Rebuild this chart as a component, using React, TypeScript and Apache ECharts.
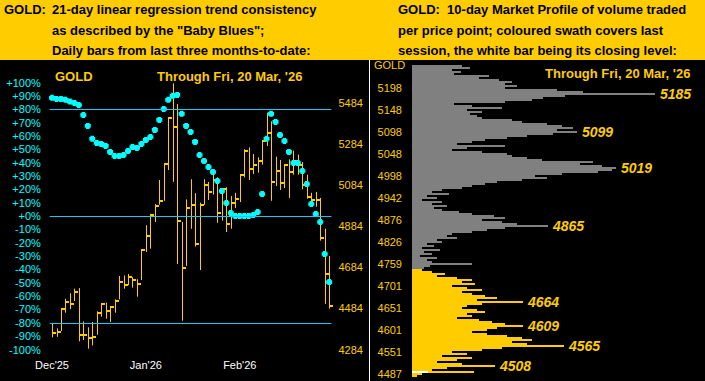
import React, { useEffect, useRef } from 'react';
import * as echarts from 'echarts';

// ---------- Left panel data: daily bars (price) ----------
const BAR_HIGH = [4414,4387,4483,4531,4558,4580,4583,4421,4392,4418,4470,4509,4512,4496,4528,4642,4645,4652,4636,4626,4772,4889,4944,4992,5109,5191,5415,5580,5479,4905,5015,5113,5045,4999,5113,5100,5142,5122,5067,5074,5031,5047,5132,5259,5268,5236,5220,5304,5437,5395,5223,5207,5187,5210,5252,5233,5197,5135,5047,5051,5022,4872,4739];
const BAR_LOW = [4343,4346,4374,4463,4480,4520,4324,4330,4288,4304,4356,4444,4434,4418,4463,4528,4580,4597,4585,4541,4622,4759,4775,4905,4989,5008,5158,5100,4700,4424,4691,4872,4785,4671,4989,5012,5038,4901,4911,4856,4872,4973,5002,5122,5109,5138,5145,5184,5275,5008,5080,5061,5070,5022,5135,5135,5064,5018,4979,4979,4814,4506,4483];
const BAR_CLOSE = [4366,4369,4483,4515,4506,4564,4356,4356,4340,4346,4463,4506,4470,4492,4522,4613,4600,4638,4624,4603,4770,4837,4940,4983,5008,5186,5411,5369,4911,4681,4973,4989,4798,4989,5086,5051,5109,4947,5067,4895,4999,5018,5132,5252,5164,5184,5203,5301,5340,5100,5155,5096,5184,5148,5200,5184,5086,5028,5012,5012,4827,4652,4496];
// "Baby Blues": 21-day linear regression trend consistency (%)
const BABY_BLUES = [88.5,87.7,87.7,87.0,85.7,84.7,83.2,75.7,67.5,57.9,54.7,54.0,52.5,48.0,45.0,45.0,45.7,48.7,51.7,51.0,54.0,57.0,59.2,64.5,72.0,80.2,87.0,90.0,90.7,76.5,67.5,63.0,55.5,45.7,41.2,36.7,33.0,26.2,18.7,9.7,2.2,0,0,0,0,0.7,3.0,16.5,57.9,76.5,70.5,60.7,56.2,48.0,39.7,39.7,33.7,24.0,9.0,1.5,-4.5,-28.5,-49.5];
const MONTH_LABELS: Record<number, string> = { 0: "Dec'25", 21: "Jan'26", 42: "Feb'26" };
const PRICE_TICKS = [4284, 4484, 4684, 4884, 5084, 5284, 5484];
const REF_LINES = [80, 0, -80];

// ---------- Right panel data: 10-day market profile ----------
const PROFILE_VOLUME = [
  0,50,58,40,49,42,77,67,87,100,93,105,93,145,171,243,153,131,120,93,
  42,60,90,55,70,58,65,70,100,110,135,150,161,145,165,141,115,95,73,60,
  45,93,55,40,70,95,100,115,130,181,168,190,204,200,186,150,123,135,110,85,
  73,60,50,30,20,37,15,25,10,30,20,35,22,30,47,60,82,93,70,90,
  105,136,93,75,60,40,35,45,25,30,15,22,10,28,12,20,8,25,15,20,
  60,18,12,10,20,33,25,45,60,50,63,40,55,70,50,60,73,85,65,111,
  70,55,50,65,73,55,60,45,67,80,93,111,85,75,60,75,95,110,120,100,
  115,152,90,70,40,55,30,60,45,25,50,83,35,20,62,10,5
];
const PROFILE_TICKS = ['5198','5148','5098','5048','4998','4942','4876','4826','4759','4701','4651','4601','4551','4487'];
const PROFILE_FIRST_TICK_ROW = 12;
const PROFILE_TICK_STEP = 11;
const PEAK_ROWS = [15, 34, 52, 81, 119, 131, 141, 151];
const PEAK_LABELS = ['5185', '5099', '5019', '4865', '4664', '4609', '4565', '4508'];
const SWATH_START_ROW = 103;
const CLOSE_ROW = 154;
const CLOSE_BAR = 16;

const YELLOW = '#FFCC00';
const CYAN = '#00FFFF';
const CYAN_LINE = '#19C8F5';
const GRAY = '#808080';
const FONT = '"Liberation Sans", Arial, sans-serif';

function buildOption() {
  const days = BAR_HIGH.map((_, i) => String(i));
  const rows = PROFILE_VOLUME.map((_, i) => String(i));
  const barData = BAR_HIGH.map((h, i) => [i, h, BAR_LOW[i], BAR_CLOSE[i]]);
  const blueData = BABY_BLUES.map((v, i) => [i, v]);

  const profileData = PROFILE_VOLUME.map((v, i) => {
    const k = PEAK_ROWS.indexOf(i);
    const c = i >= SWATH_START_ROW ? YELLOW : GRAY;
    const item: any = { value: v, itemStyle: { color: c } };
    if (k >= 0) {
      item.label = {
        show: true, position: 'right', distance: 5, formatter: PEAK_LABELS[k],
        color: YELLOW, fontSize: 14, fontWeight: 'bold', fontStyle: 'italic', fontFamily: FONT,
      };
    }
    return item;
  });
  const closeData = PROFILE_VOLUME.map((_, i) => (i === CLOSE_ROW ? CLOSE_BAR : '-'));

  const headerFont = `bold 13px ${FONT}`;
  const txt = (text: string, x: number, y: number, font: string, fill: string) => ({
    type: 'text', x, y, silent: true,
    style: { text, font, fill, verticalAlign: 'middle', align: 'left' },
  });

  return {
    animation: false,
    backgroundColor: '#000',
    graphic: [
      { type: 'rect', shape: { x: 0, y: 0, width: 705, height: 60 }, style: { fill: YELLOW }, silent: true },
      txt('GOLD:', 4, 9.5, headerFont, '#000'),
      txt('21-day linear regression trend consistency', 52, 9.5, headerFont, '#000'),
      txt('as described by the "Baby Blues";', 52, 30, headerFont, '#000'),
      txt('Daily bars from last three months-to-date:', 52, 50.5, headerFont, '#000'),
      txt('GOLD:  10-day Market Profile of volume traded', 398, 9.5, headerFont, '#000'),
      txt('per price point; coloured swath covers last', 398, 30, headerFont, '#000'),
      txt('session, the white bar being its closing level:', 398, 50.5, headerFont, '#000'),
      txt('GOLD', 55, 76, `bold 13px ${FONT}`, YELLOW),
      txt("Through Fri, 20 Mar, '26", 157, 76, `bold 13px ${FONT}`, YELLOW),
      txt("Through Fri, 20 Mar, '26", 545, 73, `bold 13px ${FONT}`, YELLOW),
      txt('GOLD', 374, 65, `11px ${FONT}`, YELLOW),
      { type: 'line', shape: { x1: 369.5, y1: 60, x2: 369.5, y2: 381 }, style: { stroke: '#fff', lineWidth: 1 }, silent: true },
    ],
    grid: [
      { left: 49.8, right: 373.6, top: 82.5, bottom: 31.5, containLabel: false, outerBoundsMode: 'none' },
      { left: 412, right: 0, top: 63, height: 314, containLabel: false, outerBoundsMode: 'none' },
    ],
    xAxis: [
      {
        type: 'category', gridIndex: 0, data: days, boundaryGap: true,
        axisLine: { show: false }, axisTick: { show: false }, splitLine: { show: false },
        axisLabel: {
          interval: 0, color: '#fff', fontSize: 11, fontFamily: FONT, margin: 10,
          formatter: (_v: string, i: number) => MONTH_LABELS[i] ?? '',
        },
      },
      { type: 'value', gridIndex: 1, min: 0, max: 293, show: false },
    ],
    yAxis: [
      {
        type: 'value', gridIndex: 0, position: 'left', min: -100, max: 100, interval: 10,
        axisLine: { show: false }, axisTick: { show: false }, splitLine: { show: false },
        axisLabel: {
          color: CYAN, fontSize: 11, fontFamily: FONT, margin: 9,
          formatter: (v: number) => (v >= 0 ? '+' : '') + v + '%',
        },
      },
      {
        type: 'value', gridIndex: 0, position: 'right', min: 4284, max: 5584,
        axisLine: { show: false }, axisTick: { show: false }, splitLine: { show: false },
        axisLabel: {
          customValues: PRICE_TICKS, color: YELLOW, fontSize: 11, fontFamily: FONT, margin: 7,
          formatter: (v: number) => String(Math.round(v)),
        },
      },
      {
        type: 'category', gridIndex: 1, inverse: true, data: rows,
        axisLine: { show: false }, axisTick: { show: false }, splitLine: { show: false },
        axisLabel: {
          interval: 0, color: YELLOW, fontSize: 11, fontFamily: FONT, margin: 10,
          formatter: (_v: string, i: number) => {
            const d = i - PROFILE_FIRST_TICK_ROW;
            if (d >= 0 && d % PROFILE_TICK_STEP === 0) return PROFILE_TICKS[d / PROFILE_TICK_STEP] ?? '';
            return '';
          },
        },
      },
    ],
    series: [
      {
        type: 'custom', name: 'Daily bars', xAxisIndex: 0, yAxisIndex: 1,
        encode: { x: 0, y: [1, 2, 3] },
        data: barData,
        renderItem: (_p: any, api: any) => {
          const i = api.value(0);
          const hi = api.coord([i, api.value(1)]);
          const lo = api.coord([i, api.value(2)]);
          const cl = api.coord([i, api.value(3)]);
          const x = Math.round(hi[0]) + 0.5;
          return {
            type: 'group',
            children: [
              { type: 'line', shape: { x1: x, y1: hi[1], x2: x, y2: lo[1] }, style: { stroke: YELLOW, lineWidth: 1 } },
              { type: 'rect', shape: { x: x - 0.5, y: Math.round(cl[1]) - 1, width: 4, height: 2 }, style: { fill: YELLOW } },
            ],
          };
        },
      },
      {
        type: 'scatter', name: 'Baby Blues', xAxisIndex: 0, yAxisIndex: 0,
        data: blueData,
        symbol: 'path://M1,0H4V1H5V4H4V5H1V4H0V1H1Z', symbolSize: 6,
        itemStyle: { color: CYAN, opacity: 1 },
        markLine: {
          silent: true, symbol: ['none', 'none'], label: { show: false },
          lineStyle: { color: CYAN_LINE, width: 1, type: 'solid', opacity: 1 },
          data: REF_LINES.map((v) => ({ yAxis: v })),
        },
        z: 3,
      },
      {
        type: 'bar', name: 'Market Profile', xAxisIndex: 1, yAxisIndex: 2,
        barCategoryGap: '0%', barGap: '-100%', data: profileData,
      },
      {
        type: 'bar', name: 'Close', xAxisIndex: 1, yAxisIndex: 2,
        barCategoryGap: '0%', barGap: '-100%', data: closeData,
        itemStyle: { color: '#fff' }, z: 3,
      },
    ],
  };
}

export default function App() {
  const ref = useRef<HTMLDivElement>(null);
  useEffect(() => {
    document.body.style.margin = '0';
    const chart = echarts.init(ref.current!, null, { renderer: 'svg' });
    chart.setOption(buildOption() as any);
    return () => chart.dispose();
  }, []);
  return <div ref={ref} style={{ position: 'absolute', left: 0, top: 0, width: 705, height: 381 }} />;
}
